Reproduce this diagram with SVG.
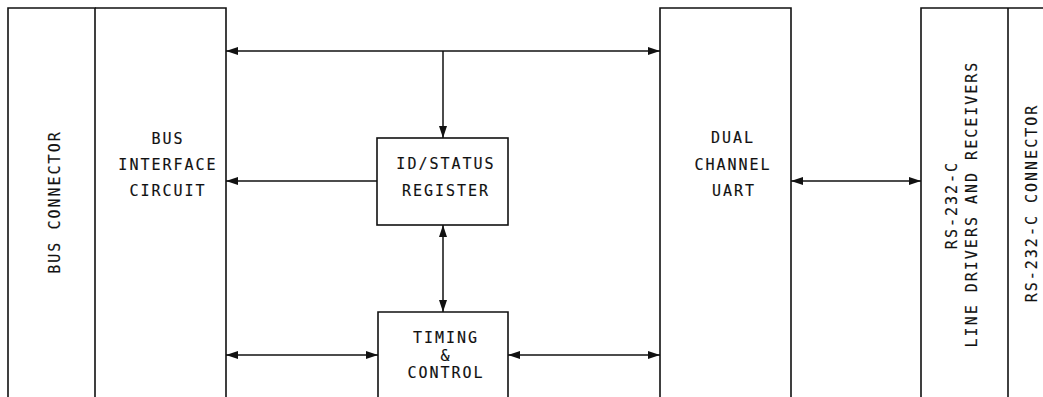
<svg xmlns="http://www.w3.org/2000/svg" width="1043" height="397" viewBox="0 0 1043 397">
<style>
.box{fill:none;stroke:#111;stroke-width:1.6}
.ln{fill:none;stroke:#111;stroke-width:1.5}
text{font-family:"DejaVu Sans Mono","Liberation Mono",monospace;font-size:15px;fill:#111;stroke:#111;stroke-width:0.15;letter-spacing:2px;text-anchor:middle}
</style>
<defs>
<marker id="ah" viewBox="0 0 12 8" refX="12" refY="4" markerWidth="12" markerHeight="8" markerUnits="userSpaceOnUse" orient="auto-start-reverse">
<path d="M0,0 L12,4 L0,8 Z" fill="#111"/>
</marker>
</defs>
<rect width="1043" height="397" fill="#fff"/>
<g id="bus-connector">
<path class="box" d="M8,397 V8 H95 V397"/>
<text transform="translate(60,202) rotate(-90)">BUS CONNECTOR</text>
</g>
<g id="bus-interface">
<path class="box" d="M95,8 H226 V397"/>
<text x="168" y="144">BUS</text>
<text x="168" y="170">INTERFACE</text>
<text x="168" y="196">CIRCUIT</text>
</g>
<g id="id-status">
<rect class="box" x="377" y="138" width="131" height="87"/>
<text x="446" y="169">ID/STATUS</text>
<text x="446" y="196">REGISTER</text>
</g>
<g id="timing">
<path class="box" d="M378,397 V312 H508 V397"/>
<text x="446" y="343">TIMING</text>
<text x="446" y="361">&amp;</text>
<text x="446" y="378">CONTROL</text>
</g>
<g id="uart">
<path class="box" d="M660,397 V8 H791 V397"/>
<text x="733" y="143">DUAL</text>
<text x="733" y="170">CHANNEL</text>
<text x="734" y="196">UART</text>
</g>
<g id="line-drivers">
<path class="box" d="M921,397 V8 H1043"/>
<text transform="translate(957,205) rotate(-90)">RS-232-C</text>
<text transform="translate(977,204) rotate(-90)">LINE DRIVERS AND RECEIVERS</text>
</g>
<g id="rs232-connector">
<path class="box" d="M1008,8 V397"/>
<text transform="translate(1037,203) rotate(-90)">RS-232-C CONNECTOR</text>
</g>
<g id="connectors">
<line class="ln" x1="226" y1="51" x2="660" y2="51" marker-start="url(#ah)" marker-end="url(#ah)"/>
<line class="ln" x1="443" y1="51" x2="443" y2="138" marker-end="url(#ah)"/>
<line class="ln" x1="377" y1="181" x2="226" y2="181" marker-end="url(#ah)"/>
<line class="ln" x1="443" y1="225" x2="443" y2="312" marker-start="url(#ah)" marker-end="url(#ah)"/>
<line class="ln" x1="226" y1="355" x2="378" y2="355" marker-start="url(#ah)" marker-end="url(#ah)"/>
<line class="ln" x1="508" y1="355" x2="660" y2="355" marker-start="url(#ah)" marker-end="url(#ah)"/>
<line class="ln" x1="791" y1="181" x2="921" y2="181" marker-start="url(#ah)" marker-end="url(#ah)"/>
</g>
</svg>
